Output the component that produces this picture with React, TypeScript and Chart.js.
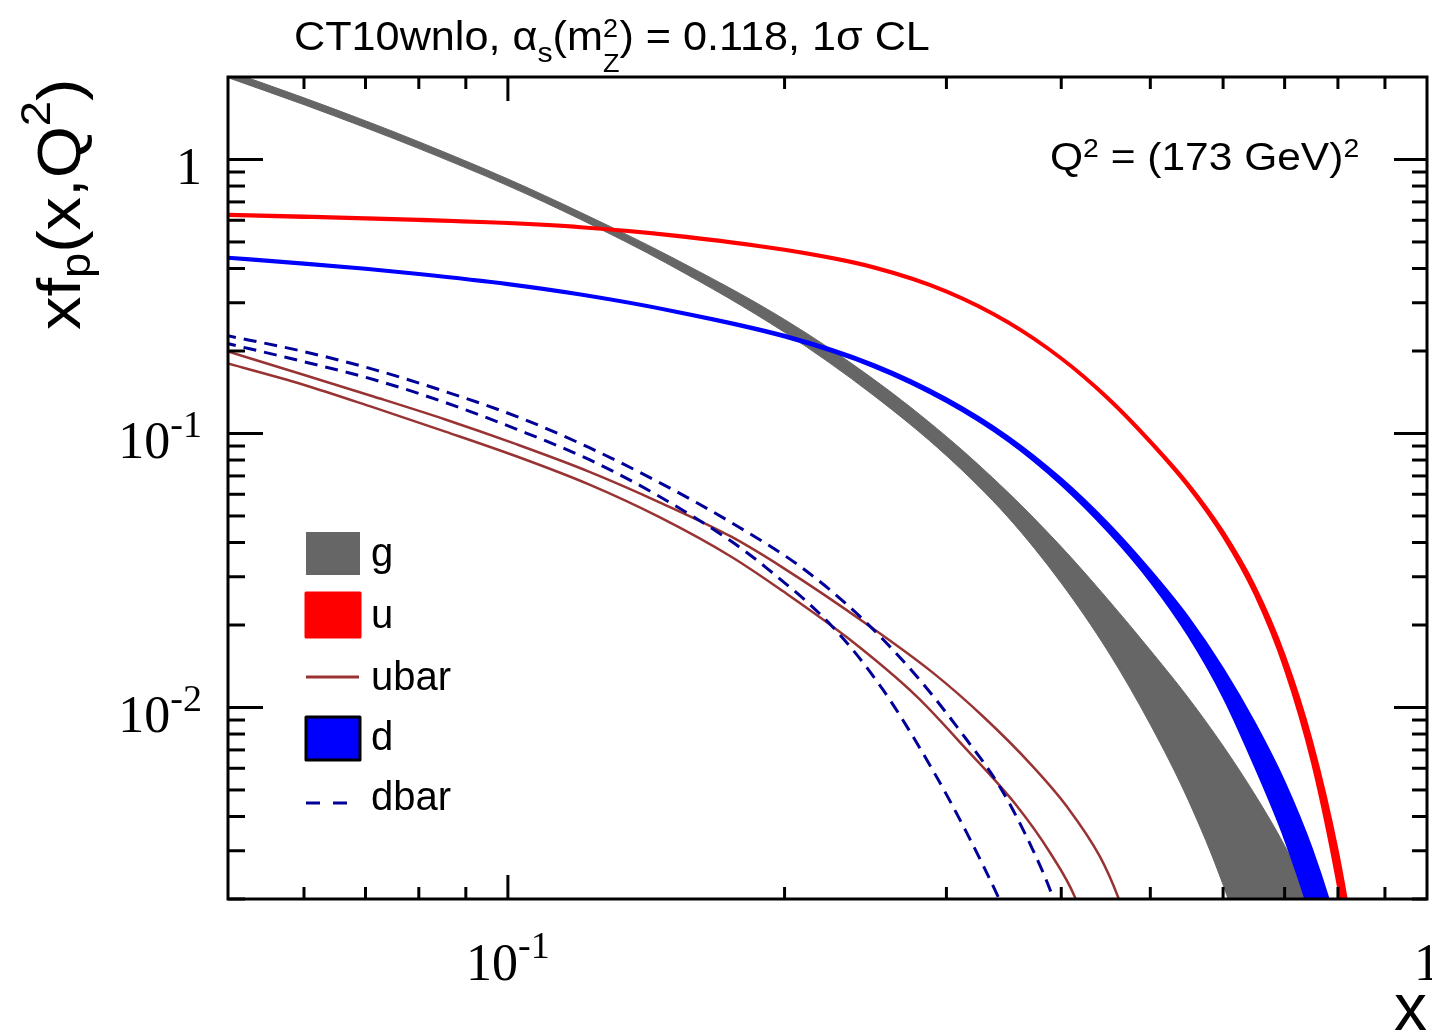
import React, { useEffect, useRef } from "react";
import { Chart, registerables } from "chart.js";

Chart.register(...registerables);

// Momentum-fraction grid for the g, u and d bands (left edge of the frame first)
const xGrid = [0.049, 0.06, 0.07, 0.08, 0.1, 0.12, 0.15, 0.2, 0.25, 0.3, 0.35, 0.4, 0.45, 0.5, 0.55, 0.6, 0.65, 0.7, 0.75, 0.8, 0.85];

// gluon: 1-sigma band edges
const gUpper = [2.138, 1.679, 1.384, 1.161, 0.849, 0.641, 0.4436, 0.2606, 0.1578, 0.0975, 0.061, 0.0386, 0.0247, 0.01618, 0.01084, 0.00724, 0.0048, 0.00313, 0.00195, 0.00117, 0.00066];
const gLower = [2.018, 1.585, 1.306, 1.096, 0.802, 0.6039, 0.4121, 0.2339, 0.1377, 0.083, 0.0495, 0.02844, 0.01596, 0.00867, 0.00458, 0.002254, 0.00099, 0.00038, 0.000126, 0.00004, 0.0000126];

// u quark: 1-sigma band edges
const uUpper = [0.634, 0.624, 0.616, 0.608, 0.591, 0.571, 0.535, 0.472, 0.408, 0.333, 0.2571, 0.1897, 0.1356, 0.0946, 0.0658, 0.0441, 0.0277, 0.01552, 0.0075, 0.00298, 0.00094];
const uLower = [0.622, 0.612, 0.604, 0.596, 0.581, 0.561, 0.525, 0.464, 0.4, 0.327, 0.2523, 0.1863, 0.1325, 0.092, 0.0634, 0.0419, 0.0257, 0.01384, 0.00624, 0.00222, 0.00065];

// d quark: 1-sigma band edges
const dUpper = [0.4443, 0.4215, 0.4034, 0.3861, 0.3547, 0.3249, 0.2843, 0.2297, 0.1798, 0.1349, 0.0979, 0.0687, 0.0471, 0.0318, 0.0214, 0.01393, 0.00879, 0.00537, 0.00305, 0.00155, 0.00071];
const dLower = [0.4347, 0.4124, 0.3947, 0.3777, 0.347, 0.3179, 0.2781, 0.2234, 0.1742, 0.1299, 0.0936, 0.0648, 0.0436, 0.0287, 0.0182, 0.01089, 0.00604, 0.0033, 0.00164, 0.00069, 0.00025];

// anti-up: upper and lower error curves
const ubarUpperX = [0.049, 0.0598, 0.0714, 0.0855, 0.1023, 0.1225, 0.1462, 0.175, 0.1991, 0.246, 0.2897, 0.3289, 0.3724, 0.4055, 0.4406, 0.4613, 0.4786];
const ubarUpperY = [0.2018, 0.1641, 0.1365, 0.1125, 0.0912, 0.0726, 0.0561, 0.042, 0.0324, 0.0201, 0.01343, 0.00927, 0.0061, 0.00436, 0.00286, 0.00203, 0.00141];
const ubarLowerX = [0.049, 0.0598, 0.0714, 0.0855, 0.1023, 0.1225, 0.1462, 0.175, 0.1991, 0.2355, 0.2786, 0.3155, 0.3581, 0.389, 0.414, 0.4295];
const ubarLowerY = [0.182, 0.151, 0.1245, 0.1016, 0.0824, 0.0652, 0.0495, 0.0355, 0.0266, 0.0177, 0.01096, 0.00703, 0.00436, 0.00295, 0.00203, 0.00141];

// anti-down: upper and lower error curves
const dbarUpperX = [0.049, 0.0598, 0.0714, 0.0855, 0.1023, 0.1225, 0.1462, 0.175, 0.208, 0.2415, 0.2786, 0.3155, 0.3428, 0.3724, 0.3917, 0.4055];
const dbarUpperY = [0.2291, 0.1995, 0.1714, 0.1422, 0.1153, 0.0889, 0.0662, 0.0473, 0.0327, 0.0215, 0.01297, 0.00764, 0.00515, 0.00303, 0.00203, 0.00141];
const dbarLowerX = [0.049, 0.0598, 0.0714, 0.0855, 0.1023, 0.1225, 0.1462, 0.175, 0.1914, 0.2259, 0.2559, 0.2897, 0.3155, 0.3428, 0.3548];
const dbarLowerY = [0.2148, 0.1832, 0.1574, 0.1297, 0.1035, 0.0804, 0.0589, 0.0404, 0.0322, 0.0196, 0.01161, 0.00593, 0.0035, 0.00198, 0.00151];

// Axis ranges and tick labels
const xRange = [0.0496, 1];
const yRange = [0.002, 2];
const xMajorTicks = [0.1, 1];
const xMinorTicks = [0.06, 0.07, 0.08, 0.09, 0.2, 0.3, 0.4, 0.5, 0.6, 0.7, 0.8, 0.9];
const xTickLabels = [
  { v: 0.1, base: "10", exp: "-1" },
  { v: 1, base: "1", exp: "" },
];
const yMajorTicks = [0.01, 0.1, 1];
const yMinorTicks = [0.002, 0.003, 0.004, 0.005, 0.006, 0.007, 0.008, 0.009, 0.02, 0.03, 0.04, 0.05, 0.06, 0.07, 0.08, 0.09, 0.2, 0.3, 0.4, 0.5, 0.6, 0.7, 0.8, 0.9, 2];
const yTickLabels = [
  { v: 1, base: "1", exp: "" },
  { v: 0.1, base: "10", exp: "-1" },
  { v: 0.01, base: "10", exp: "-2" },
];

const legendLabels = ["g", "u", "ubar", "d", "dbar"];

const GRAY = "#666666";
const RED = "#ff0000";
const BLUE = "#0000ff";
const BROWN = "#993333";
const NAVY = "#000099";
const SANS = '"Liberation Sans", Arial, sans-serif';
const SERIF = '"Liberation Serif", "Times New Roman", serif';

const onGrid = (ys: number[]) => xGrid.map((x, i) => ({ x, y: ys[i] }));
const zipXY = (xs: number[], ys: number[]) => xs.map((x, i) => ({ x, y: ys[i] }));

type Part = { t: string; size: number; dy?: number; stack?: { t: string; size: number; dy: number } };

// Draws a run of text pieces (sub/superscripts included) starting at (x, y), stretched by sx
function drawParts(ctx: CanvasRenderingContext2D, parts: Part[], x: number, y: number, sx = 1) {
  ctx.save();
  ctx.translate(x, y);
  ctx.scale(sx, 1);
  let cx = 0;
  ctx.textAlign = "left";
  ctx.textBaseline = "alphabetic";
  for (const p of parts) {
    ctx.font = `${p.size}px ${SANS}`;
    ctx.fillText(p.t, cx, p.dy ?? 0);
    let w = ctx.measureText(p.t).width;
    if (p.stack) {
      ctx.font = `${p.stack.size}px ${SANS}`;
      ctx.fillText(p.stack.t, cx, p.stack.dy);
      w = Math.max(w, ctx.measureText(p.stack.t).width);
    }
    cx += w;
  }
  ctx.restore();
}

function drawPower(
  ctx: CanvasRenderingContext2D,
  base: string,
  exp: string,
  x: number,
  y: number,
  align: "right" | "center",
  size: number
) {
  ctx.textAlign = "left";
  ctx.textBaseline = "alphabetic";
  ctx.font = `${size}px ${SERIF}`;
  const wb = ctx.measureText(base).width;
  const expSize = Math.round(size * 0.74);
  ctx.font = `${expSize}px ${SERIF}`;
  const we = exp ? ctx.measureText(exp).width : 0;
  const total = wb + we;
  const x0 = align === "right" ? x - total : x - total / 2;
  ctx.font = `${size}px ${SERIF}`;
  ctx.fillText(base, x0, y);
  if (exp) {
    ctx.font = `${expSize}px ${SERIF}`;
    ctx.fillText(exp, x0 + wb, y - size * 0.42);
  }
}

const decorations = {
  id: "pdfDecorations",
  afterDatasetsDraw(chart: any) {
    const { ctx, chartArea: a } = chart;
    const xs = chart.scales.x;
    const ys = chart.scales.y;
    ctx.save();
    ctx.strokeStyle = "#000";
    ctx.fillStyle = "#000";
    ctx.lineWidth = 3;
    ctx.lineCap = "butt";
    const seg = (x1: number, y1: number, x2: number, y2: number) => {
      ctx.beginPath();
      ctx.moveTo(x1, y1);
      ctx.lineTo(x2, y2);
      ctx.stroke();
    };

    // inward ticks on all four sides
    for (const v of xMinorTicks) {
      const p = xs.getPixelForValue(v);
      seg(p, a.bottom, p, a.bottom - 12);
      seg(p, a.top, p, a.top + 12);
    }
    for (const v of xMajorTicks) {
      const p = xs.getPixelForValue(v);
      if (p >= a.right - 1) continue;
      seg(p, a.bottom, p, a.bottom - 24);
      seg(p, a.top, p, a.top + 24);
    }
    for (const v of yMinorTicks) {
      const p = ys.getPixelForValue(v);
      if (p <= a.top + 1) continue;
      seg(a.left, p, a.left + 17, p);
      seg(a.right, p, a.right - 15, p);
    }
    for (const v of yMajorTicks) {
      const p = ys.getPixelForValue(v);
      seg(a.left, p, a.left + 35, p);
      seg(a.right, p, a.right - 33, p);
    }

    // frame
    ctx.lineJoin = "miter";
    ctx.strokeRect(a.left, a.top, a.right - a.left, a.bottom - a.top);

    // tick labels
    for (const t of yTickLabels) {
      const p = ys.getPixelForValue(t.v);
      drawPower(ctx, t.base, t.exp, 202, p + 25, "right", 52);
    }
    for (const t of xTickLabels) {
      const p = xs.getPixelForValue(t.v);
      drawPower(ctx, t.base, t.exp, p, 980, "center", 52);
    }

    // axis titles
    ctx.font = `66px ${SANS}`;
    ctx.textAlign = "right";
    ctx.fillText("x", 1427, 1030);

    ctx.save();
    ctx.translate(80, 330);
    ctx.rotate(-Math.PI / 2);
    drawParts(
      ctx,
      [
        { t: "xf", size: 62 },
        { t: "p", size: 42, dy: 10 },
        { t: "(x,Q", size: 62 },
        { t: "2", size: 42, dy: -30 },
        { t: ")", size: 62 },
      ],
      0,
      0,
      1.08
    );
    ctx.restore();

    // header and scale annotation
    drawParts(
      ctx,
      [
        { t: "CT10wnlo, ", size: 40 },
        { t: "α", size: 40 },
        { t: "s", size: 28, dy: 12 },
        { t: "(m", size: 40 },
        { t: "2", size: 25, dy: -13, stack: { t: "Z", size: 25, dy: 22 } },
        { t: ") = 0.118, 1σ CL", size: 40 },
      ],
      294,
      50,
      1.08
    );
    drawParts(
      ctx,
      [
        { t: "Q", size: 39 },
        { t: "2", size: 26, dy: -13 },
        { t: " = (173 GeV)", size: 39 },
        { t: "2", size: 26, dy: -13 },
      ],
      1050,
      170,
      1.09
    );

    // legend
    const lx = 306;
    const lw = 54;
    const textX = 371;
    const base = [566, 628, 690, 750, 810];
    ctx.fillStyle = GRAY;
    ctx.fillRect(lx, 532, lw, 43);

    ctx.fillStyle = RED;
    ctx.strokeStyle = RED;
    ctx.lineJoin = "round";
    ctx.lineWidth = 3;
    ctx.fillRect(lx, 593, lw, 44);
    ctx.strokeRect(lx, 593, lw, 44);

    ctx.strokeStyle = BROWN;
    ctx.lineWidth = 3;
    seg(lx, 677, lx + 53, 677);

    ctx.fillStyle = BLUE;
    ctx.strokeStyle = "#000";
    ctx.fillRect(lx, 717, lw, 43);
    ctx.strokeRect(lx, 717, lw, 43);

    ctx.strokeStyle = NAVY;
    ctx.setLineDash([14, 13]);
    seg(lx, 803, lx + 53, 803);
    ctx.setLineDash([]);

    ctx.fillStyle = "#000";
    ctx.font = `40px ${SANS}`;
    ctx.textAlign = "left";
    legendLabels.forEach((s, i) => ctx.fillText(s, textX, base[i]));

    ctx.restore();
  },
};

export default function App() {
  const canvasRef = useRef<HTMLCanvasElement | null>(null);

  useEffect(() => {
    const canvas = canvasRef.current;
    if (!canvas) return;

    const band = (lo: number[], hi: number[], color: string, width: number, order: number) => [
      { data: onGrid(lo), borderColor: color, borderWidth: width, fill: false, order },
      { data: onGrid(hi), borderColor: color, borderWidth: width, backgroundColor: color, fill: "-1", order },
    ];

    const chart = new Chart(canvas, {
      type: "line",
      data: {
        datasets: [
          ...band(gLower, gUpper, GRAY, 1, 5),
          ...band(uLower, uUpper, RED, 2, 4),
          { data: zipXY(ubarUpperX, ubarUpperY), borderColor: BROWN, borderWidth: 2.5, fill: false, order: 3 },
          { data: zipXY(ubarLowerX, ubarLowerY), borderColor: BROWN, borderWidth: 2.5, fill: false, order: 3 },
          ...band(dLower, dUpper, BLUE, 1.5, 2),
          { data: zipXY(dbarUpperX, dbarUpperY), borderColor: NAVY, borderWidth: 3, borderDash: [13, 8], fill: false, order: 1 },
          { data: zipXY(dbarLowerX, dbarLowerY), borderColor: NAVY, borderWidth: 3, borderDash: [13, 8], fill: false, order: 1 },
        ] as any,
      },
      options: {
        animation: false,
        responsive: false,
        devicePixelRatio: 1,
        parsing: false as any,
        layout: { padding: { left: 228, top: 77, right: 5, bottom: 134 } },
        elements: {
          point: { radius: 0, hoverRadius: 0 },
          line: { cubicInterpolationMode: "monotone", capBezierPoints: false, borderJoinStyle: "round" },
        },
        scales: {
          x: { type: "logarithmic", min: xRange[0], max: xRange[1], display: false },
          y: { type: "logarithmic", min: yRange[0], max: yRange[1], display: false },
        },
        plugins: {
          legend: { display: false },
          tooltip: { enabled: false },
          title: { display: false },
        },
        events: [],
      },
      plugins: [decorations],
    });

    return () => chart.destroy();
  }, []);

  return (
    <div style={{ position: "absolute", left: 0, top: 0, width: 1432, height: 1033, background: "#fff" }}>
      <canvas ref={canvasRef} width={1432} height={1033} style={{ display: "block" }} />
    </div>
  );
}
